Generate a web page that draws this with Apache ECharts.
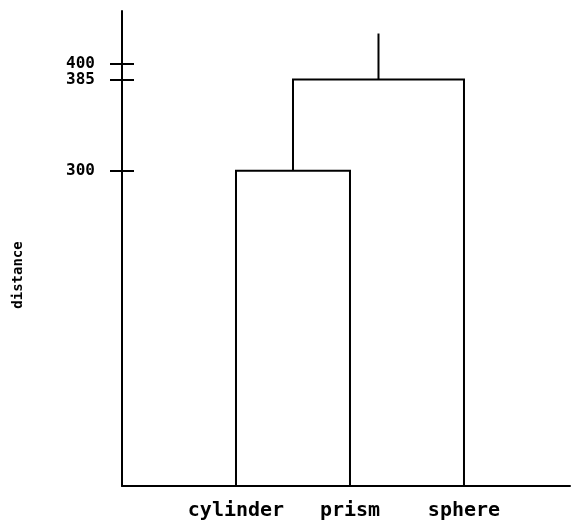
<!DOCTYPE html>
<html>
<head>
<meta charset="utf-8">
<script src="https://cdn.jsdelivr.net/npm/echarts@6/dist/echarts.min.js"></script>
<style>
  html, body { margin: 0; padding: 0; background: #fff; }
  #chart { width: 572px; height: 522px; }
</style>
</head>
<body>
<div id="chart"></div>
<script>
// leaves of the dendrogram, left to right
var leafNames = ["cylinder", "prism", "sphere"];
// merges: cluster ids (0..2 are leaves, 3.. are earlier merges) and heights
var mergeLeft = [0, 3];
var mergeRight = [1, 2];
var mergeHeight = [300, 385];
var rootTop = 428;
// y tick labels
var yTicks = [300, 385, 400];

var yMin = 6, yMax = 449;

// build the U shaped links from the merge table
var pos = [], hgt = [];
leafNames.forEach(function (n, i) { pos.push(i + 1); hgt.push(yMin); });
var links = [];
for (var i = 0; i < mergeHeight.length; i++) {
  var a = mergeLeft[i], b = mergeRight[i];
  links.push([pos[a], hgt[a], pos[b], hgt[b], mergeHeight[i]]);
  pos.push((pos[a] + pos[b]) / 2);
  hgt.push(mergeHeight[i]);
}
var last = pos.length - 1;
// root stub
links.push([pos[last], hgt[last], pos[last], rootTop, null]);

var chart = echarts.init(document.getElementById("chart"));

var font = "DejaVu Sans Mono";

chart.setOption({
  animation: false,
  grid: { left: 122, right: 2, top: 11, bottom: 36 },
  xAxis: {
    type: "value",
    min: 0,
    max: 3.93,
    splitLine: { show: false },
    axisLine: { lineStyle: { color: "#000", width: 2 } },
    axisTick: { show: false },
    axisLabel: {
      customValues: [1, 2, 3],
      formatter: function (v) { return leafNames[Math.round(v) - 1] || ""; },
      color: "#000",
      fontFamily: font,
      fontWeight: "bold",
      fontSize: 20,
      margin: 15
    }
  },
  yAxis: [{
    type: "value",
    min: yMin,
    max: yMax,
    splitLine: { show: false },
    axisLine: { show: true, lineStyle: { color: "#000", width: 2 } },
    axisTick: { show: true, customValues: yTicks, length: 12, lineStyle: { color: "#000", width: 2 } },
    axisLabel: {
      customValues: yTicks,
      hideOverlap: false,
      color: "#000",
      fontFamily: font,
      fontWeight: "bold",
      fontSize: 16,
      margin: 27
    }
  }, {
    type: "value",
    min: yMin,
    max: yMax,
    position: "left",
    splitLine: { show: false },
    axisLine: { show: false },
    axisTick: { show: true, inside: true, customValues: yTicks, length: 12, lineStyle: { color: "#000", width: 2 } },
    axisLabel: { show: false }
  }],
  graphic: [{
    type: "text",
    x: 18,
    y: 275,
    rotation: Math.PI / 2,
    style: {
      text: "distance",
      fill: "#000",
      font: "bold 14px DejaVu Sans Mono",
      align: "center",
      verticalAlign: "middle"
    }
  }],
  series: [{
    type: "custom",
    clip: true,
    data: links,
    renderItem: function (params, api) {
      var x1 = api.value(0), y1 = api.value(1), x2 = api.value(2), y2 = api.value(3);
      var h = links[params.dataIndex][4];
      var pts;
      if (h == null) {
        pts = [api.coord([x1, y1]), api.coord([x2, y2])];
      } else {
        pts = [api.coord([x1, y1]), api.coord([x1, h]), api.coord([x2, h]), api.coord([x2, y2])];
      }
      return {
        type: "polyline",
        shape: { points: pts },
        style: { stroke: "#000", lineWidth: 2, fill: null }
      };
    }
  }]
});
</script>
</body>
</html>
